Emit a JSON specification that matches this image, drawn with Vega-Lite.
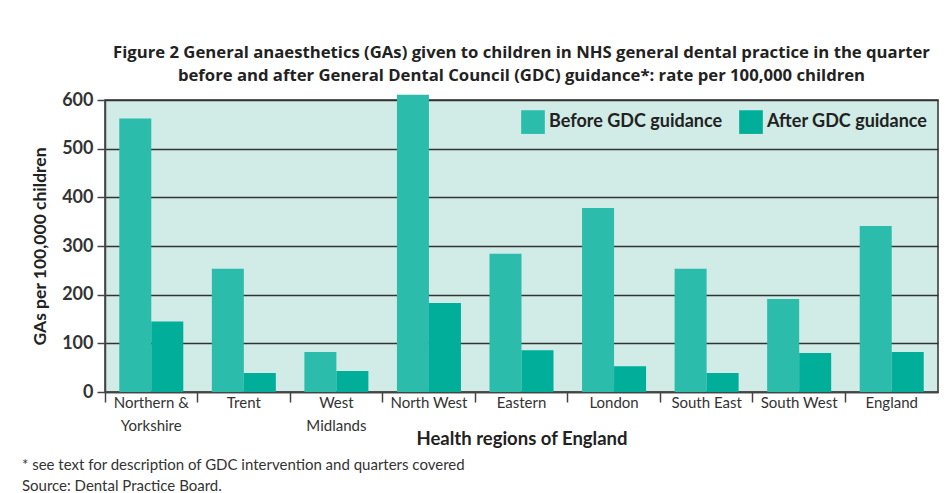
{
  "$schema": "https://vega.github.io/schema/vega-lite/v6.json",
  "background": "white",
  "padding": {"left": 21, "top": 44, "right": 5, "bottom": 2},
  "config": {
    "font": "Lato",
    "view": {"stroke": "#333333", "strokeWidth": 1.5, "fill": "#d1ebe6"},
    "axis": {"labelColor": "#333333", "titleColor": "#222222", "domainColor": "#444444", "tickColor": "#444444"}
  },
  "title": {
    "text": ["* see text for description of GDC intervention and quarters covered", "Source: Dental Practice Board."],
    "orient": "bottom",
    "anchor": "start",
    "frame": "bounds",
    "fontSize": 15,
    "fontWeight": "normal",
    "color": "#333333",
    "lineHeight": 21,
    "offset": 10,
    "dx": -9
  },
  "vconcat": [
    {
      "width": 833,
      "height": 292,
      "title": {
        "text": ["Figure 2 General anaesthetics (GAs) given to children in NHS general dental practice in the quarter", "before and after General Dental Council (GDC) guidance*: rate per 100,000 children"],
        "font": "Open Sans",
        "fontSize": 16.7,
        "fontWeight": "bold",
        "color": "#222222",
        "lineHeight": 23,
        "anchor": "middle",
        "offset": 6
      },
      "data": {
        "values": [
          {"region": "Northern & Yorkshire", "period": "Before GDC guidance", "rate": 562},
          {"region": "Northern & Yorkshire", "period": "After GDC guidance", "rate": 145},
          {"region": "Trent", "period": "Before GDC guidance", "rate": 253},
          {"region": "Trent", "period": "After GDC guidance", "rate": 39},
          {"region": "West Midlands", "period": "Before GDC guidance", "rate": 82},
          {"region": "West Midlands", "period": "After GDC guidance", "rate": 43},
          {"region": "North West", "period": "Before GDC guidance", "rate": 611},
          {"region": "North West", "period": "After GDC guidance", "rate": 183},
          {"region": "Eastern", "period": "Before GDC guidance", "rate": 284},
          {"region": "Eastern", "period": "After GDC guidance", "rate": 86},
          {"region": "London", "period": "Before GDC guidance", "rate": 378},
          {"region": "London", "period": "After GDC guidance", "rate": 53},
          {"region": "South East", "period": "Before GDC guidance", "rate": 253},
          {"region": "South East", "period": "After GDC guidance", "rate": 39},
          {"region": "South West", "period": "Before GDC guidance", "rate": 191},
          {"region": "South West", "period": "After GDC guidance", "rate": 80},
          {"region": "England", "period": "Before GDC guidance", "rate": 341},
          {"region": "England", "period": "After GDC guidance", "rate": 82}
        ]
      },
      "mark": {"type": "bar", "clip": false},
      "encoding": {
        "x": {
          "field": "region",
          "type": "nominal",
          "sort": null,
          "scale": {"paddingInner": 0, "paddingOuter": 0},
          "axis": {
            "title": "Health regions of England",
            "titleFontSize": 18.5,
            "titleFontWeight": "bold",
            "titlePadding": -4,
            "labelAngle": 0,
            "labelFontSize": 15,
            "labelPadding": -7,
            "labelLineHeight": 23,
            "labelExpr": "datum.value == 'Northern & Yorkshire' ? ['Northern &', 'Yorkshire'] : datum.value == 'West Midlands' ? ['West', 'Midlands'] : datum.value",
            "bandPosition": 0,
            "tickSize": 10,
            "tickWidth": 1.5,
            "domainWidth": 1.5
          }
        },
        "xOffset": {
          "field": "period",
          "type": "nominal",
          "sort": ["Before GDC guidance", "After GDC guidance"],
          "scale": {"paddingInner": 0, "paddingOuter": 0.446}
        },
        "y": {
          "field": "rate",
          "type": "quantitative",
          "scale": {"domain": [0, 600], "nice": false},
          "axis": {
            "title": "GAs per 100,000 children",
            "titleFontSize": 17.5,
            "titleFontWeight": "bold",
            "titlePadding": 12,
            "labelFontSize": 18,
            "labelFontWeight": "bold",
            "labelPadding": 4,
            "values": [0, 100, 200, 300, 400, 500, 600],
            "tickSize": 8,
            "tickWidth": 1.5,
            "domainWidth": 1.5,
            "grid": true,
            "gridColor": "#333333",
            "gridWidth": 1.5
          }
        },
        "color": {
          "field": "period",
          "type": "nominal",
          "sort": ["Before GDC guidance", "After GDC guidance"],
          "scale": {"range": ["#2bbcab", "#00ae99"]},
          "legend": {
            "title": null,
            "orient": "top-right",
            "direction": "horizontal",
            "offset": 10,
            "padding": 0,
            "symbolType": "square",
            "symbolSize": 560,
            "symbolStrokeWidth": 0,
            "labelFontSize": 18,
            "labelFontWeight": "bold",
            "labelColor": "#222222",
            "labelOffset": 4,
            "columnPadding": 16,
            "labelLimit": 300
          }
        }
      }
    }
  ]
}
